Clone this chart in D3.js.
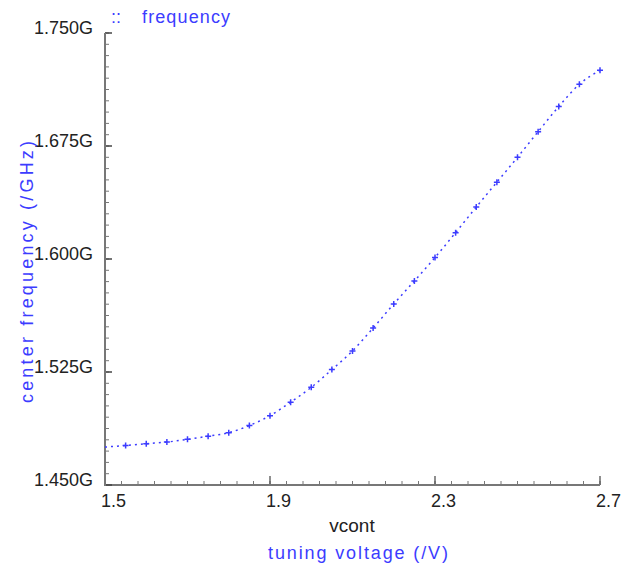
<!DOCTYPE html>
<html><head><meta charset="utf-8">
<script src="https://cdn.jsdelivr.net/npm/d3@7"></script>
<style>body{margin:0;background:#fff;} svg{display:block;} text{font-family:"Liberation Sans",Arial,sans-serif;}</style>
</head><body>
<script>
const voltage = [1.50,1.55,1.60,1.65,1.70,1.75,1.80,1.85,1.90,1.95,2.00,2.05,2.10,2.15,2.20,2.25,2.30,2.35,2.40,2.45,2.50,2.55,2.60,2.65,2.70];
const frequency = [1.4752,1.4762,1.4774,1.4785,1.4803,1.4824,1.4847,1.4895,1.4960,1.5050,1.5148,1.5266,1.5390,1.5542,1.5702,1.5854,1.6010,1.6175,1.6345,1.6510,1.6675,1.6845,1.7012,1.7160,1.7252];
const xTicks = [1.5,1.9,2.3,2.7];
const yTicks = [1.450,1.525,1.600,1.675,1.750];
const yTickLabels = ["1.450G","1.525G","1.600G","1.675G","1.750G"];
const legendLabel = "frequency";
const xTitle = "vcont";
const xSubtitle = "tuning voltage (/V)";
const yTitle = "center frequency (/GHz)";

const W=637,H=565;
const svg=d3.select("body").append("svg").attr("width",W).attr("height",H);
const x=d3.scaleLinear().domain([1.5,2.7]).range([105,600]);
const y=d3.scaleLinear().domain([1.45,1.75]).range([485,33]);
const axisCol="#777", textCol="#222", blue="#3c3cff";

// minor ticks
const xMinor=d3.range(0,31).map(i=>1.5+i*0.04);
const yMinor=d3.range(0,41).map(i=>1.45+i*0.0075);
const gx=svg.append("g").attr("transform","translate(0,485)");
gx.selectAll("line.mi").data(xMinor).join("line").attr("x1",d=>x(d)).attr("x2",d=>x(d)).attr("y1",0).attr("y2",-4).attr("stroke",axisCol).attr("stroke-width",1);
gx.selectAll("line.ma").data(xTicks).join("line").attr("x1",d=>x(d)).attr("x2",d=>x(d)).attr("y1",0).attr("y2",-9).attr("stroke","#444").attr("stroke-width",1.2);
gx.append("line").attr("x1",x(1.5)-1).attr("x2",x(2.7)).attr("y1",0).attr("y2",0).attr("stroke",axisCol).attr("stroke-width",2);
gx.selectAll("text").data(xTicks).join("text").attr("x",d=>x(d)-4).attr("y",22).attr("font-size",18).attr("fill",textCol).text(d=>d.toFixed(1));

const gy=svg.append("g").attr("transform","translate(105,0)");
gy.selectAll("line.mi").data(yMinor).join("line").attr("y1",d=>y(d)).attr("y2",d=>y(d)).attr("x1",0).attr("x2",4).attr("stroke",axisCol).attr("stroke-width",1);
gy.selectAll("line.ma").data(yTicks).join("line").attr("y1",d=>y(d)).attr("y2",d=>y(d)).attr("x1",0).attr("x2",7).attr("stroke","#444").attr("stroke-width",1.5);
gy.append("line").attr("x1",0).attr("x2",0).attr("y1",y(1.75)).attr("y2",y(1.45)+1).attr("stroke",axisCol).attr("stroke-width",2);
gy.selectAll("text").data(yTicks).join("text").attr("x",-12).attr("y",d=>y(d)+1).attr("text-anchor","end").attr("font-size",18).attr("fill",textCol).text((d,i)=>yTickLabels[i]);

// titles
svg.append("text").attr("x",352).attr("y",532).attr("text-anchor","middle").attr("font-size",19).attr("fill",textCol).text(xTitle);
svg.append("text").attr("x",358).attr("y",559).attr("text-anchor","middle").attr("font-size",18).attr("fill",blue).attr("textLength",180).attr("lengthAdjust","spacing").text(xSubtitle);
svg.append("text").attr("transform","translate(33,272) rotate(-90)").attr("text-anchor","middle").attr("font-size",18).attr("fill",blue).attr("textLength",262).attr("lengthAdjust","spacing").text(yTitle);
svg.append("text").attr("x",111).attr("y",23).attr("font-size",18).attr("fill",blue).text("::");
svg.append("text").attr("x",142).attr("y",23).attr("font-size",18).attr("fill",blue).attr("textLength",88).attr("lengthAdjust","spacing").text(legendLabel);

// data
const pts=voltage.map((v,i)=>[v,frequency[i]]);
const line=d3.line().x(d=>x(d[0])).y(d=>y(d[1])).curve(d3.curveMonotoneX);
svg.append("path").attr("d",line(pts)).attr("fill","none").attr("stroke",blue).attr("stroke-width",1.5).attr("stroke-dasharray","2,4");
const mk=svg.append("g");
pts.slice(1).forEach(d=>{
  const cx=x(d[0]),cy=y(d[1]);
  mk.append("path").attr("d",`M${cx-3},${cy}H${cx+3}M${cx},${cy-3}V${cy+3}`).attr("stroke",blue).attr("stroke-width",1.5).attr("fill","none");
});
</script>
</body></html>
